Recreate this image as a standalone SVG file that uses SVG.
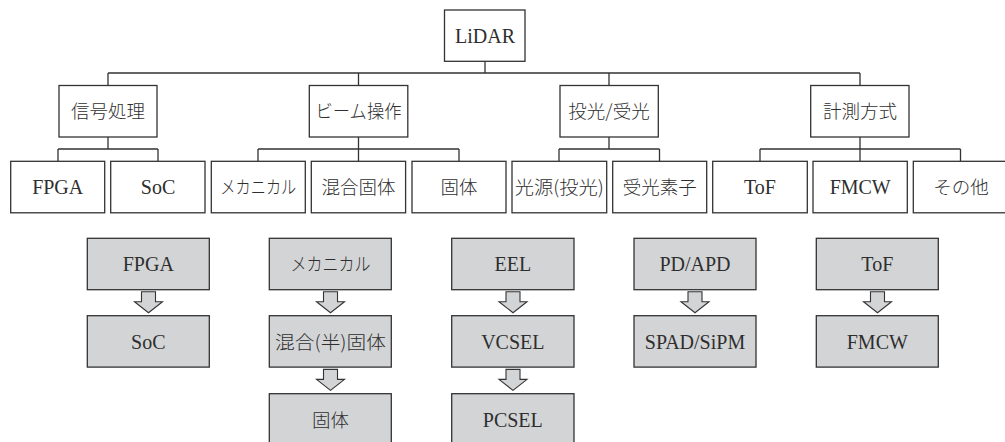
<svg xmlns="http://www.w3.org/2000/svg" width="1005" height="442" viewBox="0 0 1005 442">
<style>
.b{fill:#ffffff;stroke:#333333;stroke-width:1.3}
.g{fill:#d3d4d6;stroke:#333333;stroke-width:1.3}
.c{fill:none;stroke:#333333;stroke-width:1.3}
.a{fill:#d3d4d6;stroke:#333333;stroke-width:1.1;stroke-linejoin:miter}
text{font-family:'Liberation Serif','Times New Roman',serif;font-size:20px;fill:#2e2e2e;text-anchor:middle}
text.j{font-family:'Noto Sans CJK JP','Liberation Serif',sans-serif;font-size:18.5px;font-weight:300}
</style>
<rect width="1005" height="442" fill="#ffffff"/>
<g id="connectors">
<path class="c" d="M485,61V73M108,73H860M108,73V85M358.5,73V85M609,73V85M860,73V85"/>
<path class="c" d="M108,137V149M58,149H158M58,149V161M158,149V161"/>
<path class="c" d="M358.5,137V149M258,149H459M258,149V161M358.5,149V161M459,149V161"/>
<path class="c" d="M609,137V149M559,149H659.5M559,149V161M659.5,149V161"/>
<path class="c" d="M860,137V149M760,149H960.5M760,149V161M860,149V161M960.5,149V161"/>
<path class="a" d="M141.5,291.7h14v10h7l-14,11l-14,-11h7z"/>
<path class="a" d="M323.5,291.7h14v10h7l-14,11l-14,-11h7z"/>
<path class="a" d="M323.5,369.4h14v10h7l-14,11l-14,-11h7z"/>
<path class="a" d="M506,291.7h14v10h7l-14,11l-14,-11h7z"/>
<path class="a" d="M506,369.4h14v10h7l-14,11l-14,-11h7z"/>
<path class="a" d="M688,291.7h14v10h7l-14,11l-14,-11h7z"/>
<path class="a" d="M870.5,291.7h14v10h7l-14,11l-14,-11h7z"/>
</g>
<g id="lidar"><rect class="b" x="444.5" y="10" width="80.5" height="51.3"/><text x="485" y="42.5">LiDAR</text></g>
<g id="shingo"><rect class="b" x="59" y="85.5" width="98" height="51.5"/><text class="j" x="108" y="118">信号処理</text></g>
<g id="beam"><rect class="b" x="309.3" y="85.5" width="98.5" height="51.5"/><text class="j" x="358.5" y="118" textLength="86" lengthAdjust="spacingAndGlyphs">ビーム操作</text></g>
<g id="toko"><rect class="b" x="560" y="85.5" width="98.3" height="51.5"/><text class="j" x="609" y="118">投光/受光</text></g>
<g id="keisoku"><rect class="b" x="810.7" y="85.5" width="98.3" height="51.5"/><text class="j" x="860" y="118">計測方式</text></g>
<g id="l3-fpga"><rect class="b" x="10.7" y="161.3" width="94" height="51.5"/><text x="57.7" y="194">FPGA</text></g>
<g id="l3-soc"><rect class="b" x="110.7" y="161.3" width="94.3" height="51.5"/><text x="158" y="194">SoC</text></g>
<g id="l3-mech"><rect class="b" x="211.3" y="161.3" width="94" height="51.5"/><text class="j" x="258.3" y="194" textLength="76" lengthAdjust="spacingAndGlyphs">メカニカル</text></g>
<g id="l3-hybrid"><rect class="b" x="311.3" y="161.3" width="94.3" height="51.5"/><text class="j" x="358.5" y="194">混合固体</text></g>
<g id="l3-solid"><rect class="b" x="412" y="161.3" width="94" height="51.5"/><text class="j" x="459" y="194">固体</text></g>
<g id="l3-source"><rect class="b" x="512" y="161.3" width="94.7" height="51.5"/><text class="j" x="559.3" y="194" textLength="89" lengthAdjust="spacingAndGlyphs">光源(投光)</text></g>
<g id="l3-receiver"><rect class="b" x="612.7" y="161.3" width="94" height="51.5"/><text class="j" x="659.7" y="194">受光素子</text></g>
<g id="l3-tof"><rect class="b" x="712.7" y="161.3" width="94.6" height="51.5"/><text x="760" y="194">ToF</text></g>
<g id="l3-fmcw"><rect class="b" x="813" y="161.3" width="94.3" height="51.5"/><text x="860.2" y="194">FMCW</text></g>
<g id="l3-other"><rect class="b" x="913.3" y="161.3" width="94" height="51.5"/><text class="j" x="961" y="194">その他</text></g>
<g id="b-fpga"><rect class="g" x="87.3" y="238.3" width="122" height="51.4"/><text x="148.3" y="271">FPGA</text></g>
<g id="b-soc"><rect class="g" x="87.3" y="315.7" width="122" height="51.4"/><text x="148.3" y="348.5">SoC</text></g>
<g id="b-mech"><rect class="g" x="269.3" y="238.3" width="122" height="51.4"/><text class="j" x="330.5" y="271" textLength="80" lengthAdjust="spacingAndGlyphs">メカニカル</text></g>
<g id="b-hybrid"><rect class="g" x="269.3" y="315.7" width="122" height="51.4"/><text class="j" x="330.5" y="348.5" textLength="111" lengthAdjust="spacingAndGlyphs">混合(半)固体</text></g>
<g id="b-solid"><rect class="g" x="269.3" y="393.7" width="122" height="51.4"/><text class="j" x="330.5" y="426.5">固体</text></g>
<g id="b-eel"><rect class="g" x="451.7" y="238.3" width="122.3" height="51.4"/><text x="512.8" y="271">EEL</text></g>
<g id="b-vcsel"><rect class="g" x="451.7" y="315.7" width="122.3" height="51.4"/><text x="512.8" y="348.5">VCSEL</text></g>
<g id="b-pcsel"><rect class="g" x="451.7" y="393.7" width="122.3" height="51.4"/><text x="512.8" y="426.5">PCSEL</text></g>
<g id="b-pd"><rect class="g" x="634" y="238.3" width="122" height="51.4"/><text x="695" y="271">PD/APD</text></g>
<g id="b-spad"><rect class="g" x="634" y="315.7" width="122" height="51.4"/><text x="695" y="348.5">SPAD/SiPM</text></g>
<g id="b-tof"><rect class="g" x="816.3" y="238.3" width="122" height="51.4"/><text x="877.3" y="271">ToF</text></g>
<g id="b-fmcw"><rect class="g" x="816.3" y="315.7" width="122" height="51.4"/><text x="877.3" y="348.5">FMCW</text></g>
</svg>
